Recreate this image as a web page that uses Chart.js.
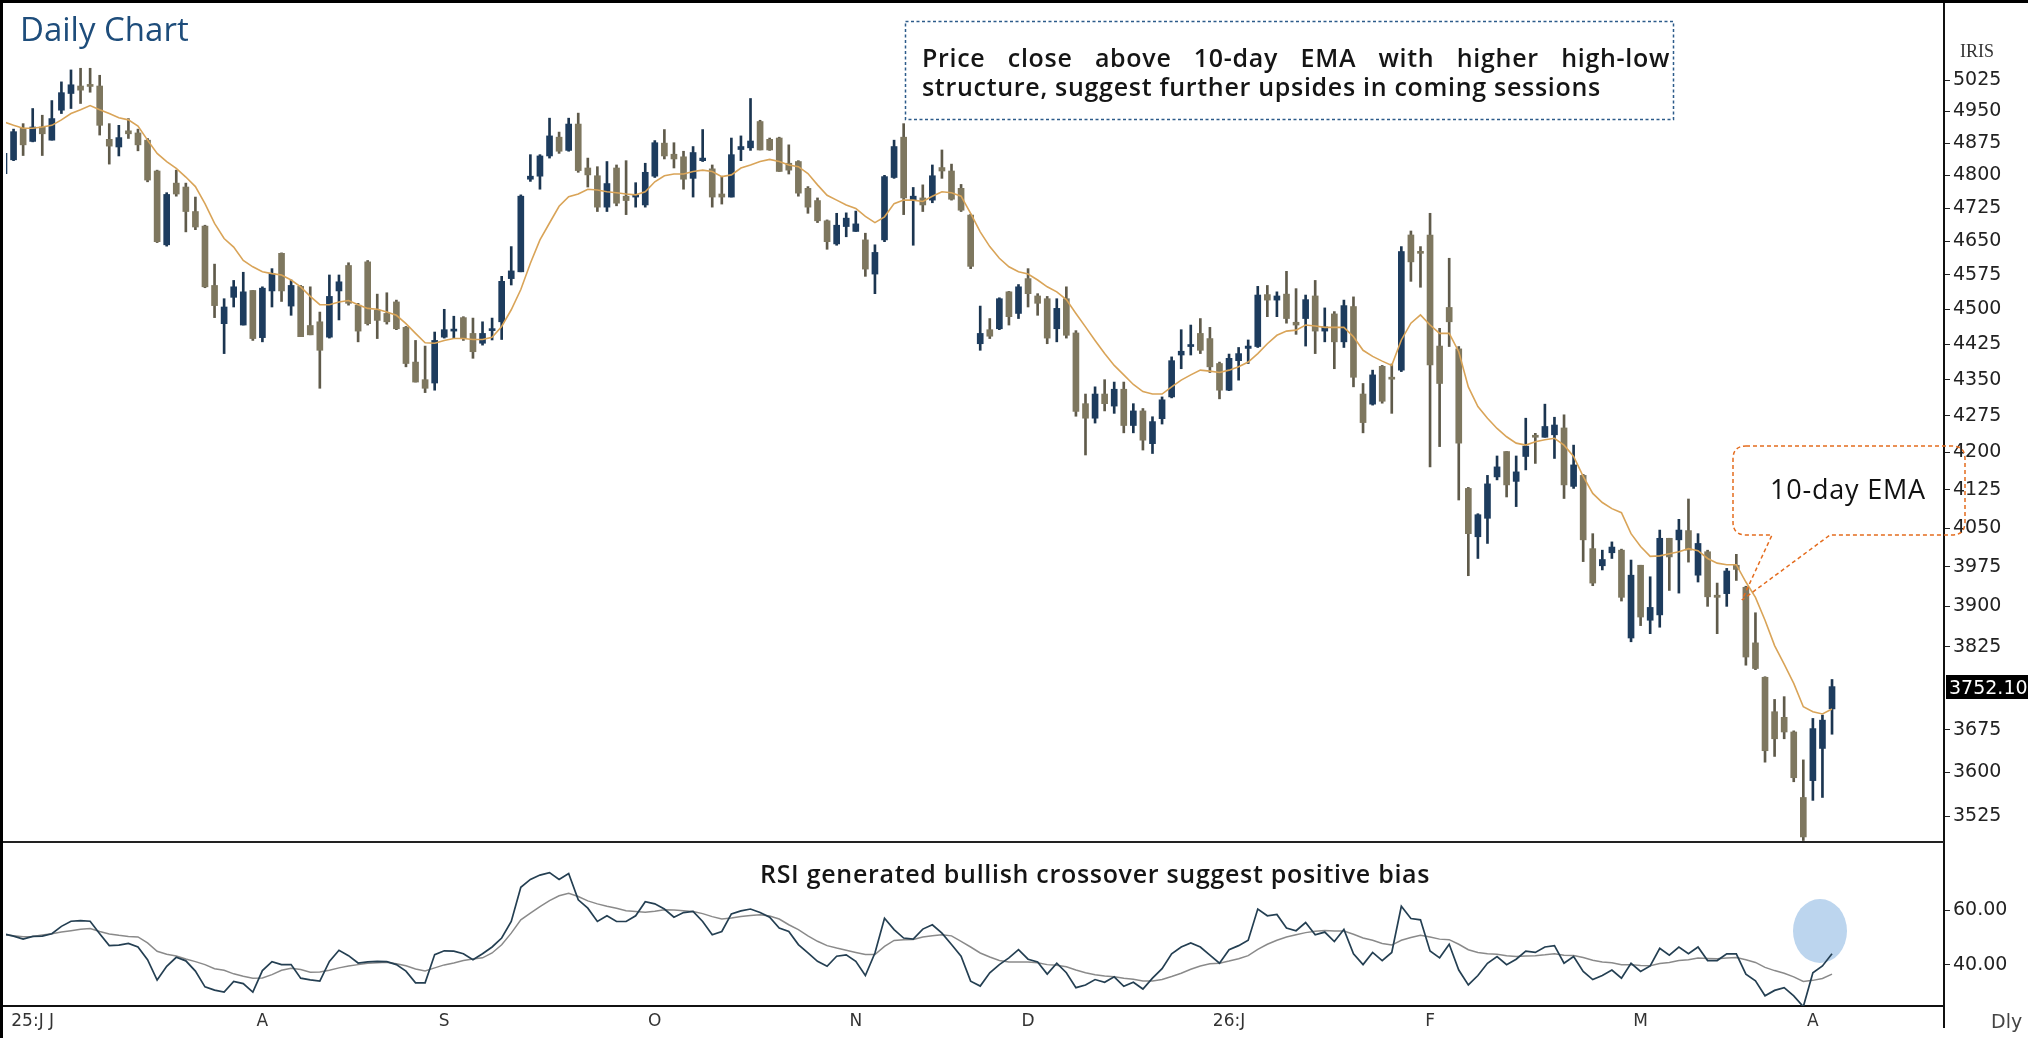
<!DOCTYPE html>
<html>
<head>
<meta charset="utf-8">
<title>Daily Chart</title>
<script src="https://cdn.jsdelivr.net/npm/chart.js@4.4.1/dist/chart.umd.min.js"></script>
<style>
html, body { margin:0; padding:0; background:#fff; }
#wrap { position:relative; width:2028px; height:1038px; overflow:hidden; background:#fff; font-family:"Open Sans", sans-serif; }
#priceChart { position:absolute; left:0; top:0; z-index:2; }
#rsiChart { position:absolute; left:0; top:842px; z-index:2; }
#circle { position:absolute; left:1793px; top:899px; width:54px; height:64px; border-radius:50%; background:#bcd5ee; z-index:1; }
#title { position:absolute; left:20px; top:9px; font-size:33px; line-height:40px; color:#1e4d7b; z-index:3; white-space:nowrap; }
#note { position:absolute; left:922px; top:43px; width:748px; font-size:25px; letter-spacing:0.7px; line-height:29px; font-weight:600; color:#151515; z-index:3; }
#note .l1 { text-align:justify; text-align-last:justify; white-space:nowrap; }
#note .l2 { white-space:nowrap; }
#rsiNote { position:absolute; left:760px; top:859px; font-size:25px; letter-spacing:0.7px; line-height:29px; font-weight:600; color:#151515; z-index:3; white-space:nowrap; }
#emaNote { position:absolute; left:1770px; top:474px; font-size:27px; letter-spacing:0.8px; line-height:30px; color:#111; z-index:3; white-space:nowrap; }
#iris { position:absolute; left:1960px; top:41px; font-family:"Liberation Serif", serif; font-size:18px; line-height:20px; color:#333; z-index:3; }
#dly { position:absolute; left:1991px; top:1010px; font-family:"DejaVu Sans", sans-serif; font-size:19px; line-height:22px; color:#444; z-index:3; }
#lastPrice { position:absolute; left:1946px; width:82px; height:24px; line-height:24px; background:#000; color:#fff; font-family:"DejaVu Sans", sans-serif; font-size:19px; padding-left:3px; overflow:hidden; white-space:nowrap; z-index:3; }
#frameTop { position:absolute; left:0; top:0; width:2028px; height:3px; background:#000; z-index:4; }
#frameLeft { position:absolute; left:0; top:0; width:3px; height:1038px; background:#000; z-index:4; }
#sep { position:absolute; left:0; top:841px; width:1944px; height:2px; background:#222; z-index:3; }
#axisBase { position:absolute; left:0; top:1005px; width:8px; height:2px; background:#111; z-index:3; }
#axisTail { position:absolute; left:1943px; top:1004px; width:2px; height:24px; background:#111; z-index:3; }
#marks { position:absolute; left:0; top:0; z-index:3; pointer-events:none; }
</style>
</head>
<body>
<div id="wrap">
  <div id="circle"></div>
  <canvas id="priceChart" width="2028" height="842"></canvas>
  <canvas id="rsiChart" width="2028" height="196"></canvas>
  <svg id="marks" width="2028" height="1038">
    <rect x="905.5" y="21.5" width="768" height="98" fill="none" stroke="#2c5b8a" stroke-width="1.5" stroke-dasharray="3 2.5"/>
    <path d="M 1746 446 H 1952 Q 1965 446 1965 459 V 522 Q 1965 535 1952 535 H 1830 L 1742 600 L 1772 535 H 1746 Q 1733 535 1733 522 V 459 Q 1733 446 1746 446 Z"
          fill="none" stroke="#e46c1e" stroke-width="1.5" stroke-dasharray="4 3"/>
  </svg>
  <div id="title">Daily Chart</div>
  <div id="note">
    <div class="l1">Price close above 10-day EMA with higher high-low</div>
    <div class="l2">structure, suggest further upsides in coming sessions</div>
  </div>
  <div id="rsiNote">RSI generated bullish crossover suggest positive bias</div>
  <div id="emaNote">10-day EMA</div>
  <div id="iris">IRIS</div>
  <div id="dly">Dly</div>
  <div id="lastPrice"></div>
  <div id="sep"></div>
  <div id="axisBase"></div>
  <div id="axisTail"></div>
  <div id="frameTop"></div>
  <div id="frameLeft"></div>
</div>
<script>
// daily candles, Jul 2025 - Apr 2026
var opens = [4804,4836,4910,4879,4913,4882,4953,4993,5011,5014,
  5011,4884,4866,4904,4899,4882,4810,4642,4782,4773,
  4717,4684,4552,4469,4526,4466,4541,4439,4540,4623,
  4507,4550,4465,4473,4440,4540,4596,4509,4604,4498,
  4491,4516,4461,4387,4350,4343,4440,4453,4482,4448,
  4427,4454,4473,4567,4582,4791,4798,4845,4889,4858,
  4920,4817,4799,4727,4817,4752,4750,4732,4798,4875,
  4849,4843,4793,4834,4815,4757,4750,4860,4864,4926,
  4884,4887,4828,4832,4770,4742,4696,4644,4683,4672,
  4653,4577,4653,4795,4889,4742,4748,4743,4818,4810,
  4770,4709,4426,4456,4458,4538,4491,4567,4529,4523,
  4458,4523,4449,4300,4270,4320,4295,4330,4255,4285,
  4218,4269,4314,4402,4420,4448,4437,4384,4328,4390,
  4416,4420,4532,4520,4533,4472,4480,4529,4453,4490,
  4430,4506,4320,4299,4378,4355,4370,4664,4627,4664,
  4421,4504,4415,4128,4033,4069,4151,4202,4142,4192,
  4234,4231,4236,4250,4132,4154,4010,3977,4002,4007,
  3841,3978,3874,3884,4030,4027,4045,3959,4004,3921,
  3924,3978,3936,3832,3769,3707,3697,3671,3557,3586,
  3642,3712];
var highs = [4856,4908,4921,4957,4941,4976,5021,5050,5054,5054,
  5037,4921,4917,4933,4908,4886,4812,4760,4812,4782,
  4750,4686,4599,4523,4563,4581,4541,4549,4589,4624,
  4564,4552,4549,4494,4575,4575,4602,4513,4607,4533,
  4536,4520,4463,4433,4421,4451,4500,4485,4484,4481,
  4473,4481,4572,4638,4755,4848,4848,4934,4901,4934,
  4946,4840,4820,4832,4824,4834,4783,4828,4881,4907,
  4876,4856,4867,4907,4824,4798,4887,4892,4981,4929,
  4887,4889,4871,4834,4774,4748,4698,4713,4714,4718,
  4668,4642,4800,4882,4921,4772,4778,4824,4859,4826,
  4779,4711,4507,4480,4525,4539,4554,4589,4534,4528,
  4523,4549,4454,4320,4335,4350,4345,4345,4300,4290,
  4273,4314,4398,4456,4466,4480,4461,4387,4404,4418,
  4434,4550,4552,4538,4583,4545,4531,4563,4503,4495,
  4520,4527,4342,4370,4380,4383,4638,4673,4638,4713,
  4459,4612,4420,4130,4078,4154,4193,4202,4193,4270,
  4239,4299,4272,4277,4215,4156,4039,4007,4023,4009,
  3988,3978,3956,4046,4030,4067,4107,4039,4007,3944,
  3972,3999,3938,3888,3770,3729,3734,3673,3622,3695,
  3701,3765];
var lows = [4799,4834,4846,4878,4846,4882,4945,4957,4969,4996,
  4894,4826,4845,4886,4857,4785,4647,4639,4752,4671,
  4676,4547,4482,4405,4505,4466,4433,4430,4505,4517,
  4487,4441,4445,4332,4438,4477,4509,4430,4466,4437,
  4468,4456,4377,4345,4323,4328,4438,4438,4433,4395,
  4423,4434,4435,4553,4582,4786,4768,4840,4851,4856,
  4807,4773,4717,4717,4730,4710,4727,4727,4795,4838,
  4817,4768,4750,4832,4727,4734,4750,4834,4858,4859,
  4858,4809,4803,4752,4713,4692,4632,4641,4660,4672,
  4572,4534,4649,4793,4710,4641,4717,4737,4793,4743,
  4717,4589,4412,4437,4456,4466,4480,4505,4487,4426,
  4430,4438,4274,4195,4260,4285,4280,4240,4240,4205,
  4198,4258,4312,4373,4402,4405,4365,4310,4327,4349,
  4384,4418,4484,4484,4470,4446,4421,4405,4430,4373,
  4418,4335,4240,4297,4301,4280,4367,4561,4548,4171,
  4212,4420,4105,3958,3991,4020,4145,4111,4092,4165,
  4178,4231,4188,4108,4128,3985,3939,3969,3991,3910,
  3834,3864,3849,3861,3930,3925,3984,3946,3900,3849,
  3900,3949,3791,3783,3618,3628,3659,3584,3484,3552,
  3557,3667];
var closes = [4851,4902,4871,4913,4897,4933,4995,5014,5001,5010,
  4917,4868,4888,4897,4871,4789,4649,4756,4757,4717,
  4682,4549,4508,4505,4549,4538,4437,4546,4578,4540,
  4552,4441,4445,4412,4528,4560,4513,4453,4469,4476,
  4473,4458,4384,4345,4332,4433,4456,4456,4437,4409,
  4448,4458,4561,4584,4752,4798,4845,4892,4856,4920,
  4811,4801,4727,4781,4736,4742,4752,4807,4876,4845,
  4838,4791,4853,4840,4750,4750,4848,4867,4880,4859,
  4859,4809,4812,4759,4727,4696,4649,4686,4702,4689,
  4588,4625,4797,4867,4748,4752,4732,4799,4810,4745,
  4720,4594,4448,4442,4523,4484,4549,4534,4513,4438,
  4502,4444,4284,4270,4320,4300,4330,4255,4285,4225,
  4263,4308,4390,4410,4424,4412,4377,4328,4395,4405,
  4421,4531,4520,4529,4480,4466,4521,4453,4462,4430,
  4508,4355,4261,4360,4305,4351,4627,4604,4623,4381,
  4342,4473,4219,4039,4076,4137,4171,4135,4161,4213,
  4231,4253,4256,4135,4175,4027,3944,3989,4013,3917,
  3959,3880,3898,4030,3994,4046,4007,4020,3918,3917,
  3967,3970,3806,3785,3638,3659,3671,3591,3490,3677,
  3692,3752.1];
// 10-day EMA as drawn on the chart
var ema10 = [4925,4917,4910,4910,4913,4917,4930,4945,4954,4964,
  4954,4945,4935,4930,4915,4882,4851,4832,4816,4796,
  4774,4735,4690,4656,4637,4607,4593,4582,4578,4575,
  4564,4549,4528,4510,4510,4516,4519,4510,4502,4500,
  4494,4487,4469,4448,4428,4427,4433,4437,4437,4435,
  4435,4440,4463,4499,4543,4601,4653,4691,4729,4751,
  4757,4768,4766,4762,4760,4757,4755,4762,4785,4799,
  4803,4803,4809,4812,4809,4797,4801,4817,4824,4832,
  4837,4832,4824,4820,4804,4778,4754,4743,4732,4724,
  4706,4692,4705,4735,4743,4743,4740,4752,4762,4760,
  4752,4713,4671,4638,4612,4593,4582,4577,4564,4549,
  4538,4521,4491,4462,4433,4405,4380,4360,4340,4325,
  4320,4320,4335,4349,4360,4370,4368,4365,4370,4377,
  4387,4405,4426,4444,4453,4455,4466,4464,4461,4461,
  4461,4441,4412,4399,4389,4380,4434,4470,4488,4466,
  4448,4448,4409,4335,4294,4270,4249,4232,4219,4215,
  4222,4226,4229,4215,4192,4152,4118,4100,4088,4080,
  4039,4014,3995,3996,4000,4004,4010,4006,3991,3982,
  3979,3979,3946,3917,3874,3827,3793,3758,3716,3707,
  3703,3712];
// RSI and its average line (lower panel)
var rsi = [51.3,50.5,49.4,50.4,50.5,51.4,54.1,56.0,56.2,56.0,
  51.4,47.0,47.2,47.8,46.5,41.8,34.3,39.4,42.7,41.4,
  37.6,31.8,30.6,29.9,33.8,33.0,29.9,37.8,41.1,40.0,
  40.0,35.0,34.4,33.9,41.2,45.3,43.3,40.6,41.0,41.2,
  41.1,40.0,37.6,33.3,33.3,43.7,45.1,45.0,44.0,41.8,
  44.0,46.5,49.8,55.9,68.5,71.4,73.0,73.9,71.4,73.6,
  63.9,60.8,55.9,58.0,55.9,55.9,58.0,63.2,62.4,60.5,
  57.5,59.2,59.6,55.9,51.0,52.2,58.7,59.8,60.5,59.2,
  57.5,53.5,52.2,47.4,44.3,41.2,39.4,43.1,43.6,41.2,
  36.0,44.3,57.1,52.9,49.8,49.4,53.1,54.7,51.6,47.4,
  43.1,33.9,32.1,37.0,40.0,42.5,45.5,42.0,41.0,36.5,
  40.5,37.0,31.5,32.5,34.5,33.5,35.5,32.0,33.5,31.0,
  35.0,38.5,44.0,46.5,48.0,46.5,43.5,40.5,45.5,47.0,
  49.0,60.5,58.0,58.5,53.5,52.5,55.5,51.0,52.0,48.5,
  53.0,44.0,40.0,44.5,41.5,44.5,61.5,57.0,56.5,45.0,
  42.5,47.5,38.0,32.5,36.0,40.5,43.0,40.0,42.0,45.0,
  44.5,46.5,47.0,40.5,43.0,37.5,34.5,36.0,38.0,35.0,
  40.5,37.5,39.5,46.0,43.5,46.5,44.0,46.5,41.5,41.5,
  44.0,44.0,36.5,34.0,28.5,30.5,31.5,28.5,24.5,37.0,
  39.5,44.0];
var rsiSignal = [51.0,50.6,50.3,50.4,50.9,51.4,52.0,52.5,53.0,53.3,
  52.2,51.3,50.8,50.4,50.2,48.0,44.9,43.8,43.2,42.1,
  41.1,40.0,38.5,37.9,36.6,35.7,35.0,35.1,36.3,37.9,
  38.7,38.2,37.2,37.3,37.9,38.8,39.5,40.0,40.5,40.7,
  40.9,40.3,39.6,38.4,37.7,38.8,39.9,40.6,41.5,42.1,
  42.5,44.3,47.3,51.6,56.5,59.0,61.4,63.6,65.4,66.3,
  65.1,63.5,62.4,61.5,60.8,59.9,59.6,59.3,59.7,60.2,
  60.1,59.9,59.6,58.8,57.7,56.8,57.2,57.7,58.1,58.4,
  57.9,56.8,54.7,52.9,50.6,48.6,47.0,46.1,45.3,44.5,
  43.7,43.7,46.7,48.9,49.2,49.3,50.2,50.6,51.0,50.6,
  48.6,46.5,44.3,42.8,41.5,41.0,41.0,41.0,40.7,40.0,
  39.8,39.2,38.0,37.0,36.3,35.8,35.5,35.0,34.6,34.0,
  34.0,34.5,35.6,36.8,38.3,39.5,40.3,40.5,41.3,42.2,
  43.3,45.6,47.5,49.0,50.2,51.0,51.8,52.3,52.6,52.4,
  52.4,51.2,49.8,49.0,47.8,47.2,49.0,50.0,50.8,50.2,
  49.4,49.2,47.5,45.5,44.5,44.0,43.8,43.3,43.0,43.2,
  43.3,43.6,44.0,43.5,43.4,42.6,41.6,41.0,40.7,40.0,
  40.0,39.7,39.6,40.4,40.8,41.5,41.8,42.4,42.3,42.2,
  42.4,42.6,41.8,40.8,39.0,37.8,36.8,35.5,33.8,34.2,
  34.9,36.5];
// axis labels
var monthPos = [4, 28, 47, 69, 90, 108, 129, 150, 172, 190];
var monthText = ["25:J J", "A", "S", "O", "N", "D", "26:J", "F", "M", "A"];
var priceTicks = [3525,3600,3675,3825,3900,3975,4050,4125,4200,4275,4350,4425,4500,4575,4650,4725,4800,4875,4950,5025];
var rsiTicks = [40, 60];

var UP = '#1d3c5e', DOWN = '#7e775f';
var UP_WICK = '#1b3550', DOWN_WICK = '#5f5a4a';
var X_MIN = 1.21, X_MAX = 203.7; // same x range for both panels

var wickData = [], bodyData = [], emaData = [], rsiData = [], sigData = [];
for (var i = 0; i < closes.length; i++) {
  wickData.push({x: i + 1, y: [lows[i], highs[i]]});
  bodyData.push({x: i + 1, y: [opens[i], closes[i]]});
  emaData.push({x: i + 1, y: ema10[i]});
  rsiData.push({x: i + 1, y: rsi[i]});
  sigData.push({x: i + 1, y: rsiSignal[i]});
}
function isUp(ctx) { return closes[ctx.dataIndex] >= opens[ctx.dataIndex]; }

var axisFont = {family: 'DejaVu Sans', size: 19};

var priceChart = new Chart(document.getElementById('priceChart').getContext('2d'), {
  type: 'bar',
  data: {
    datasets: [{
      type: 'line', data: emaData, borderColor: '#d9a458', borderWidth: 1.6,
      pointRadius: 0, tension: 0, order: 0
    }, {
      data: bodyData, grouped: false, barThickness: 6, minBarLength: 2,
      backgroundColor: function (ctx) { return isUp(ctx) ? UP : DOWN; }, order: 1
    }, {
      data: wickData, grouped: false, barThickness: 2,
      backgroundColor: function (ctx) { return isUp(ctx) ? UP_WICK : DOWN_WICK; }, order: 2
    }]
  },
  options: {
    responsive: false, animation: false, devicePixelRatio: 1,
    layout: {padding: {left: 6, top: 0, right: 0, bottom: 0}},
    plugins: {legend: {display: false}, tooltip: {enabled: false}},
    scales: {
      x: {type: 'linear', min: X_MIN, max: X_MAX, offset: false, display: false, grid: {offset: false}},
      y: {
        type: 'logarithmic', position: 'right', min: 3481.5, max: 5223,
        afterBuildTicks: function (s) { s.ticks = priceTicks.map(function (v) { return {value: v}; }); },
        afterFit: function (s) { s.width = 84; s.paddingTop = 0; s.paddingBottom = 0; },
        ticks: {autoSkip: false, color: '#222', font: axisFont, padding: 3,
          callback: function (v) { return String(v); }},
        grid: {drawOnChartArea: false, drawTicks: true, tickLength: 6, color: '#222'},
        border: {display: true, color: '#111', width: 2}
      }
    }
  }
});

var rsiChart = new Chart(document.getElementById('rsiChart').getContext('2d'), {
  type: 'line',
  data: {
    datasets: [{
      data: rsiData, borderColor: '#243f52', borderWidth: 1.7, pointRadius: 0, tension: 0
    }, {
      data: sigData, borderColor: '#8a8a8a', borderWidth: 1.5, pointRadius: 0, tension: 0
    }]
  },
  options: {
    responsive: false, animation: false, devicePixelRatio: 1,
    layout: {padding: {left: 6, top: 0, right: 0, bottom: 0}},
    plugins: {legend: {display: false}, tooltip: {enabled: false}},
    scales: {
      x: {
        type: 'linear', min: X_MIN, max: X_MAX, position: 'bottom',
        afterBuildTicks: function (s) { s.ticks = monthPos.map(function (v) { return {value: v}; }); },
        afterFit: function (s) { s.height = 32; s.paddingLeft = 0; s.paddingRight = 0; },
        ticks: {autoSkip: false, maxRotation: 0, color: '#333', font: {family: 'DejaVu Sans', size: 17}, padding: 5,
          callback: function (v) { return monthText[monthPos.indexOf(v)]; }},
        grid: {drawOnChartArea: false, drawTicks: false},
        border: {display: true, color: '#111', width: 2}
      },
      y: {
        position: 'right', min: 24.75, max: 85.2,
        afterBuildTicks: function (s) { s.ticks = rsiTicks.map(function (v) { return {value: v}; }); },
        afterFit: function (s) { s.width = 84; s.paddingTop = 0; s.paddingBottom = 0; },
        ticks: {autoSkip: false, color: '#222', font: axisFont, padding: 3,
          callback: function (v) { return v.toFixed(2); }},
        grid: {drawOnChartArea: false, drawTicks: true, tickLength: 6, color: '#222'},
        border: {display: true, color: '#111', width: 2}
      }
    }
  }
});

// last price tag on the price axis
var last = closes[closes.length - 1];
var tag = document.getElementById('lastPrice');
tag.textContent = last.toFixed(2);
tag.style.top = (priceChart.scales.y.getPixelForValue(last) - 12) + 'px';
tag.style.left = (priceChart.chartArea.right + 2) + 'px';
</script>
</body>
</html>
